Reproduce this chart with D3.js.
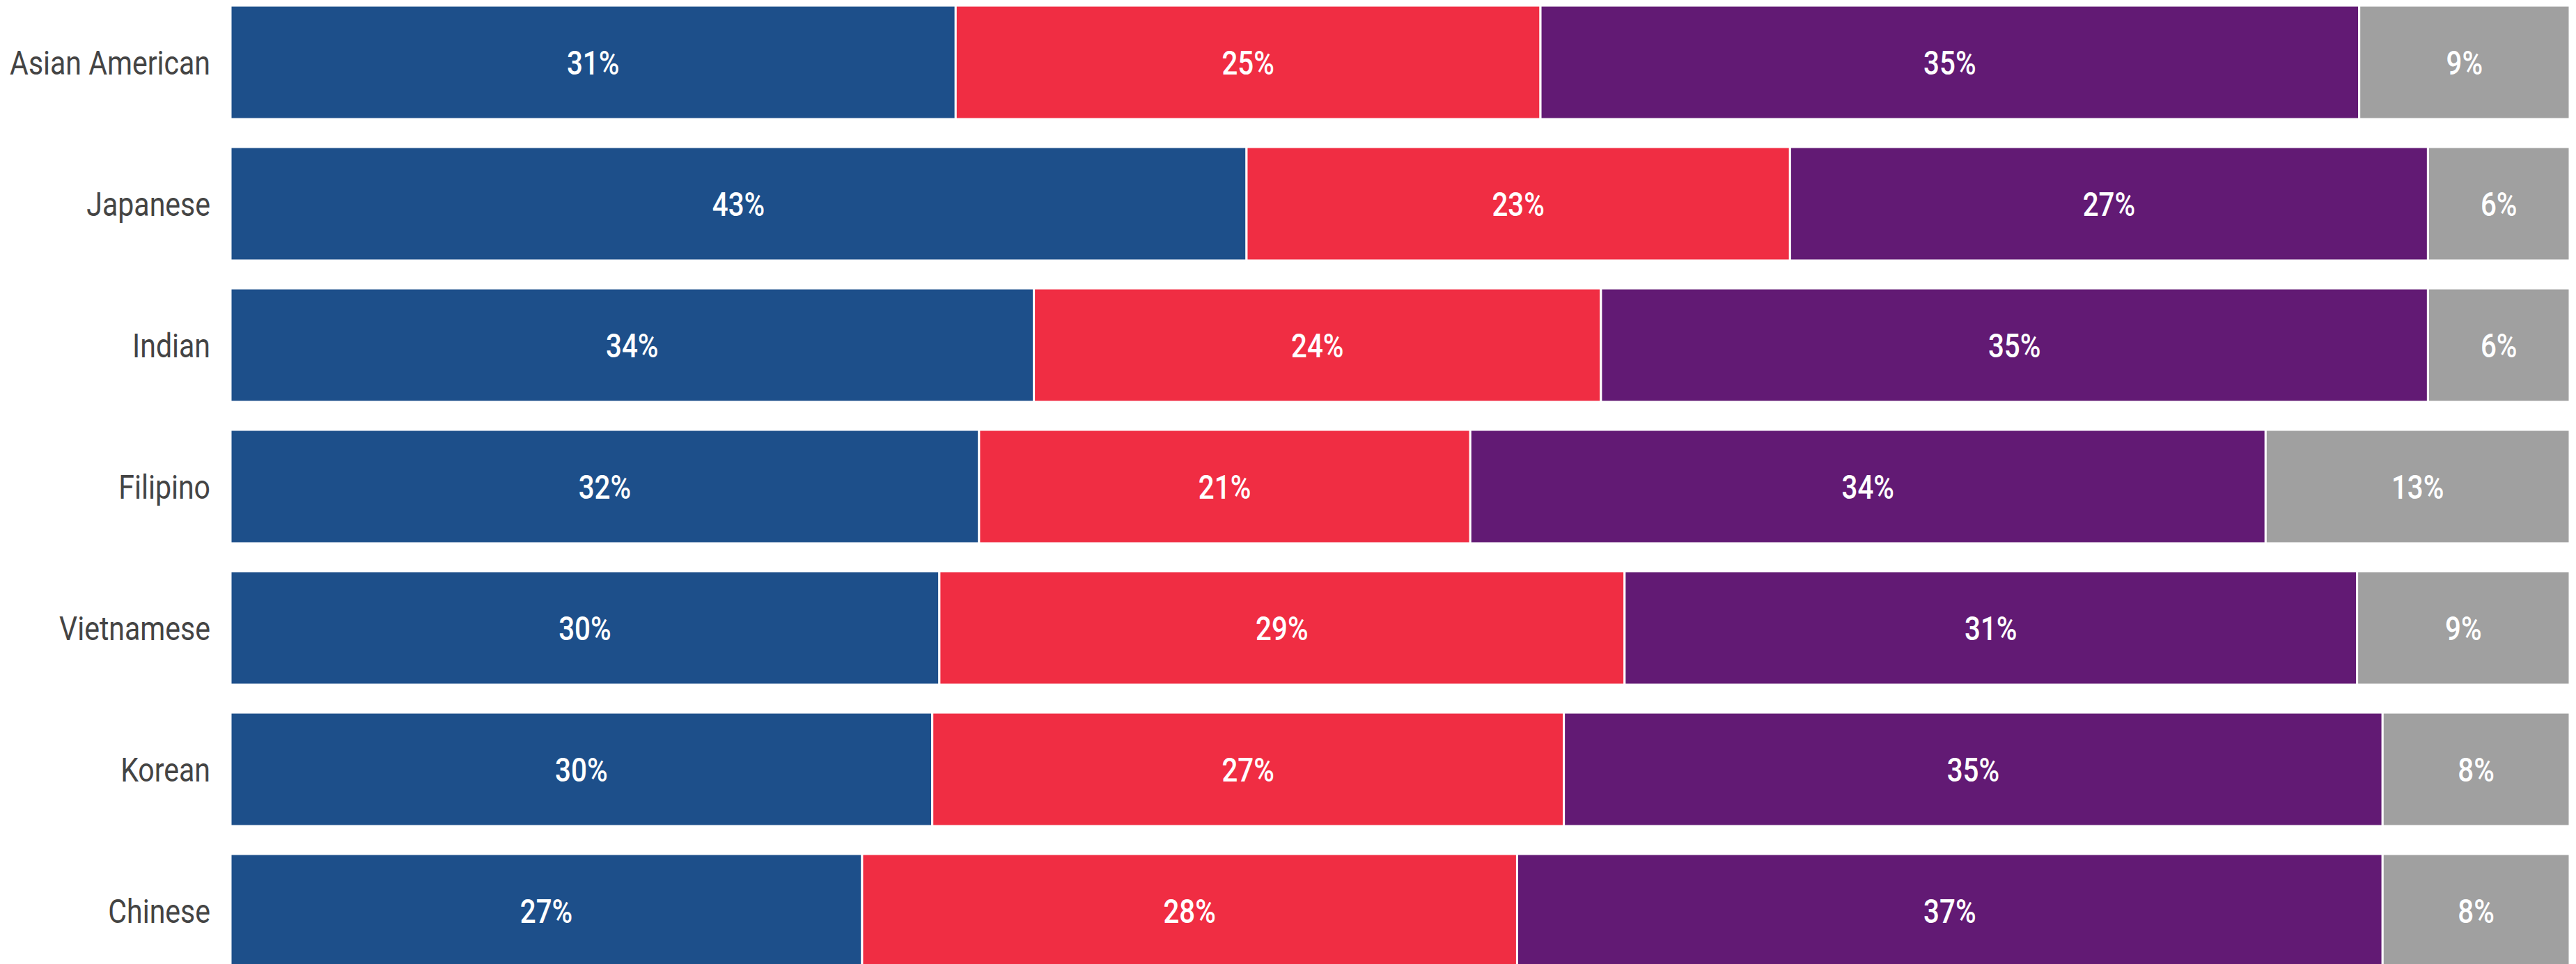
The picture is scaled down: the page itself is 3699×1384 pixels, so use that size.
<!DOCTYPE html>
<html>
<head>
<meta charset="utf-8">
<script src="https://cdn.jsdelivr.net/npm/d3@7"></script>
<style>
  html, body { margin: 0; padding: 0; background: #fff; }
  svg { display: block; }
</style>
</head>
<body>
<svg id="chart" width="3699" height="1384"></svg>
<script>
// ---- data ----
const categories = ["Asian American", "Japanese", "Indian", "Filipino", "Vietnamese", "Korean", "Chinese"];
const seriesKeys = ["first", "second", "third", "fourth"];
const firstValues  = [31, 43, 34, 32, 30, 30, 27];
const secondValues = [25, 23, 24, 21, 29, 27, 28];
const thirdValues  = [35, 27, 35, 34, 31, 35, 37];
const fourthValues = [9, 6, 6, 13, 9, 8, 8];
const seriesColors = ["#1d4f8a", "#f02d43", "#621a74", "#a0a0a0"];

const valuesBySeries = [firstValues, secondValues, thirdValues, fourthValues];

const svg = d3.select("#chart");

const x = d3.scaleLinear().domain([0, 100]).range([331, 3690]);
const step = 203;
const y = d3.scaleBand()
  .domain(categories)
  .range([-12, -12 + step * categories.length])
  .paddingInner(40 / 203)
  .paddingOuter(20 / 203);

// build stacked rows normalised to 100
const rows = categories.map((c, i) => {
  const vals = valuesBySeries.map(s => s[i]);
  const total = d3.sum(vals);
  let cum = 0;
  const segs = vals.map((v, k) => {
    const s0 = cum / total * 100;
    cum += v;
    const s1 = cum / total * 100;
    return { cat: c, key: seriesKeys[k], k, value: v, v0: s0, v1: s1 };
  });
  return { cat: c, segs };
});

const g = svg.append("g");

const rowG = g.selectAll("g.row").data(rows).join("g").attr("class", "row");

rowG.selectAll("rect")
  .data(d => d.segs)
  .join("rect")
  .attr("x", d => x(d.v0))
  .attr("width", d => x(d.v1) - x(d.v0))
  .attr("y", d => y(d.cat))
  .attr("height", y.bandwidth())
  .attr("fill", d => seriesColors[d.k])
  .attr("stroke", "#fff")
  .attr("stroke-width", 3);

const valSX = 0.84;
rowG.selectAll("text.val")
  .data(d => d.segs)
  .join("text")
  .attr("class", "val")
  .attr("transform", d => `translate(${x((d.v0 + d.v1) / 2)},${y(d.cat) + y.bandwidth() / 2}) scale(${valSX},1)`)
  .attr("text-anchor", "middle")
  .attr("dy", "0.36em")
  .attr("fill", "#fff")
  .style("font-family", "Roboto, sans-serif")
  .style("font-weight", 500)
  .style("font-size", "48px")
  .text(d => d.value + "%");

const catSX = 0.855;
g.selectAll("text.cat")
  .data(categories)
  .join("text")
  .attr("class", "cat")
  .attr("transform", d => `translate(302,${y(d) + y.bandwidth() / 2}) scale(${catSX},1)`)
  .attr("text-anchor", "end")
  .attr("dy", "0.36em")
  .attr("fill", "#444")
  .style("font-family", "Roboto, sans-serif")
  .style("font-weight", 400)
  .style("font-size", "48px")
  .text(d => d);
</script>
</body>
</html>
